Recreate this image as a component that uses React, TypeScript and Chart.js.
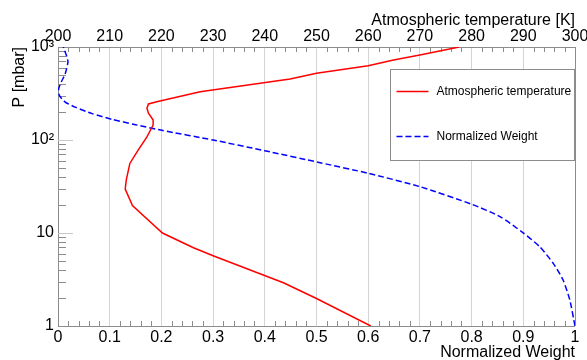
import React, { useEffect, useRef } from 'react';
import { Chart, registerables } from 'chart.js';

Chart.register(...registerables);

// Atmospheric temperature profile: pressure [mbar] and temperature [K]
const tempPressure = [1, 2, 2.92, 5.7, 6.95, 10, 19.7, 29.7, 37, 56, 78, 108, 145, 164, 194, 219, 244, 258, 331, 453, 521, 630, 725, 820, 1000];
const temperature = [260.5, 249.8, 243.6, 230.0, 226.2, 220.2, 214.4, 213.0, 213.2, 213.9, 215.5, 217.2, 218.4, 218.4, 217.5, 217.2, 217.5, 219.1, 227.5, 244.9, 250.0, 260.0, 264.9, 270.0, 277.6];

// Normalized weighting function: pressure [mbar] and weight
const weightPressure = [1, 1.9, 3.12, 4.72, 7.1, 10.1, 15, 20.4, 31.5, 43.9, 57, 76.7, 100, 127, 146, 167, 192, 226, 256, 302, 356, 421, 516, 690, 780, 975, 1000];
const weight = [1.0, 0.99, 0.977, 0.958, 0.932, 0.899, 0.855, 0.8, 0.7, 0.6, 0.507, 0.4, 0.3, 0.201, 0.15, 0.104, 0.066, 0.033, 0.014, 0.0025, 0.0013, 0.0064, 0.014, 0.0193, 0.0174, 0.011, 0.0105];

const pressureTickLabels: Record<number, string> = { 1: '1', 10: '10', 100: '10²', 1000: '10³' };

const seriesNames = ['Atmospheric temperature', 'Normalized Weight'];
const FONT = "'Liberation Sans', Arial, Helvetica, sans-serif";

const al = (v: number) => Math.round(v) + 0.5;

const rootPlugin = {
  id: 'rootStyle',
  beforeDatasetsDraw(chart: any) {
    const { ctx, chartArea: a, scales } = chart;
    ctx.save();
    ctx.lineWidth = 1;
    const line = (x1: number, y1: number, x2: number, y2: number) => {
      ctx.beginPath();
      ctx.moveTo(x1, y1);
      ctx.lineTo(x2, y2);
      ctx.stroke();
    };
    // frame
    ctx.strokeStyle = '#8c8c8c';
    line(al(a.left), a.top, al(a.left), a.bottom);
    line(al(a.right), a.top, al(a.right), a.bottom);
    line(a.left, al(a.top), a.right, al(a.top));
    line(a.left, al(a.bottom), a.right, al(a.bottom));
    // log axis minor ticks
    const y = scales.y;
    for (let d = 1; d < 1000; d *= 10) {
      for (let m = 2; m <= 9; m++) {
        const py = al(y.getPixelForValue(m * d));
        line(a.left, py, a.left + 8, py);
      }
    }
    ctx.strokeStyle = '#c8c8c8';
    for (const d of [10, 100]) {
      const py = al(y.getPixelForValue(d));
      line(a.left, py, a.left + 15, py);
    }
    ctx.strokeStyle = '#8c8c8c';
    // top axis minor ticks
    const xt = scales.xTop;
    for (let t = 202; t < 300; t += 2) {
      if (t % 10 === 0) continue;
      const px = al(xt.getPixelForValue(t));
      line(px, a.top, px, a.top + 5);
    }
    // bottom axis minor ticks
    const xb = scales.x;
    for (let i = 1; i < 50; i++) {
      if (i % 5 === 0) continue;
      const px = al(xb.getPixelForValue(i * 0.02));
      line(px, a.bottom, px, a.bottom - 5);
    }
    ctx.restore();
  },
  afterDatasetsDraw(chart: any) {
    const { ctx, width, height } = chart;
    const x1 = al(width * 0.6645);
    const x2 = al(width * 0.978);
    const y1 = al(height * 0.1917);
    const y2 = al(height * 0.4445);
    ctx.save();
    ctx.fillStyle = '#ffffff';
    ctx.fillRect(x1, y1, x2 - x1, y2 - y1);
    ctx.strokeStyle = '#8c8c8c';
    ctx.lineWidth = 1;
    ctx.strokeRect(x1, y1, x2 - x1, y2 - y1);
    const rows = [
      { y: y1 + (y2 - y1) * 0.242, color: '#ff0000', dash: [] as number[] },
      { y: y1 + (y2 - y1) * 0.736, color: '#0000ff', dash: [6, 3] },
    ];
    rows.forEach((r, i) => {
      ctx.strokeStyle = r.color;
      ctx.lineWidth = 1.5;
      ctx.setLineDash(r.dash);
      ctx.beginPath();
      ctx.moveTo(x1 + 6, r.y);
      ctx.lineTo(x1 + 38, r.y);
      ctx.stroke();
      ctx.setLineDash([]);
      ctx.fillStyle = '#000000';
      ctx.font = `12px ${FONT}`;
      ctx.textBaseline = 'middle';
      ctx.textAlign = 'left';
      ctx.fillText(seriesNames[i], x1 + 46, r.y);
    });
    ctx.restore();
  },
};

export default function App() {
  const ref = useRef<HTMLCanvasElement | null>(null);
  useEffect(() => {
    if (!ref.current) return;
    const chart = new Chart(ref.current, {
      type: 'line',
      data: {
        datasets: [
          {
            label: seriesNames[0],
            data: tempPressure.map((p, i) => ({ x: temperature[i], y: p })),
            xAxisID: 'xTop',
            yAxisID: 'y',
            borderColor: '#ff0000',
            borderWidth: 1.5,
            pointRadius: 0,
            tension: 0,
            fill: false,
          },
          {
            label: seriesNames[1],
            data: weightPressure.map((p, i) => ({ x: weight[i], y: p })),
            xAxisID: 'x',
            yAxisID: 'y',
            borderColor: '#0000ff',
            borderWidth: 1.5,
            borderDash: [6, 3],
            pointRadius: 0,
            tension: 0.2,
            fill: false,
          },
        ],
      },
      options: {
        animation: false,
        responsive: false,
        devicePixelRatio: 1,
        layout: { padding: { left: 0, right: 12, top: 0, bottom: 0 } },
        plugins: { legend: { display: false }, tooltip: { enabled: false } },
        scales: {
          x: {
            type: 'linear',
            position: 'bottom',
            min: 0,
            max: 1,
            ticks: {
              stepSize: 0.1,
              color: '#000',
              font: { family: FONT, size: 16 },
              padding: 2,
              maxRotation: 0,
              callback: (v: any) => String(Number(Number(v).toFixed(1))),
            },
            grid: { color: '#d4d4d4', drawTicks: false },
            border: { display: false },
            title: {
              display: true,
              text: 'Normalized Weight',
              align: 'end',
              color: '#000',
              font: { family: FONT, size: 16, lineHeight: 1 },
              padding: { top: 0, bottom: -1 },
            },
            afterFit: (s: any) => { s.height = 34; s.paddingLeft = 0; s.paddingRight = 0; },
          },
          xTop: {
            type: 'linear',
            position: 'top',
            min: 200,
            max: 300,
            ticks: {
              stepSize: 10,
              color: '#000',
              font: { family: FONT, size: 16 },
              padding: 1,
              maxRotation: 0,
            },
            grid: { display: false, drawTicks: false },
            border: { display: false },
            title: {
              display: true,
              text: 'Atmospheric temperature [K]',
              align: 'end',
              color: '#000',
              font: { family: FONT, size: 16, lineHeight: 1 },
              padding: { top: 13, bottom: 0 },
            },
            afterFit: (s: any) => { s.height = 47; s.paddingLeft = 0; s.paddingRight = 0; },
          },
          y: {
            type: 'logarithmic',
            position: 'left',
            min: 1,
            max: 1000,
            ticks: {
              color: '#000',
              font: { family: FONT, size: 16 },
              padding: 4,
              autoSkip: false,
              callback: (v: any) => pressureTickLabels[Number(v)] ?? '',
            },
            grid: { display: false, drawTicks: false },
            border: { display: false },
            title: {
              display: true,
              text: 'P [mbar]',
              align: 'end',
              color: '#000',
              font: { family: FONT, size: 16, lineHeight: 1 },
              padding: { top: 12, bottom: 0 },
            },
            afterFit: (s: any) => { s.width = 58; s.paddingTop = 0; s.paddingBottom = 0; },
          },
        },
      } as any,
      plugins: [rootPlugin],
    });
    return () => chart.destroy();
  }, []);
  return (
    <div style={{ position: 'fixed', left: 0, top: 0, width: 587, height: 360, background: '#fff' }}>
      <canvas ref={ref} width={587} height={360} style={{ width: 587, height: 360, display: 'block' }} />
    </div>
  );
}
